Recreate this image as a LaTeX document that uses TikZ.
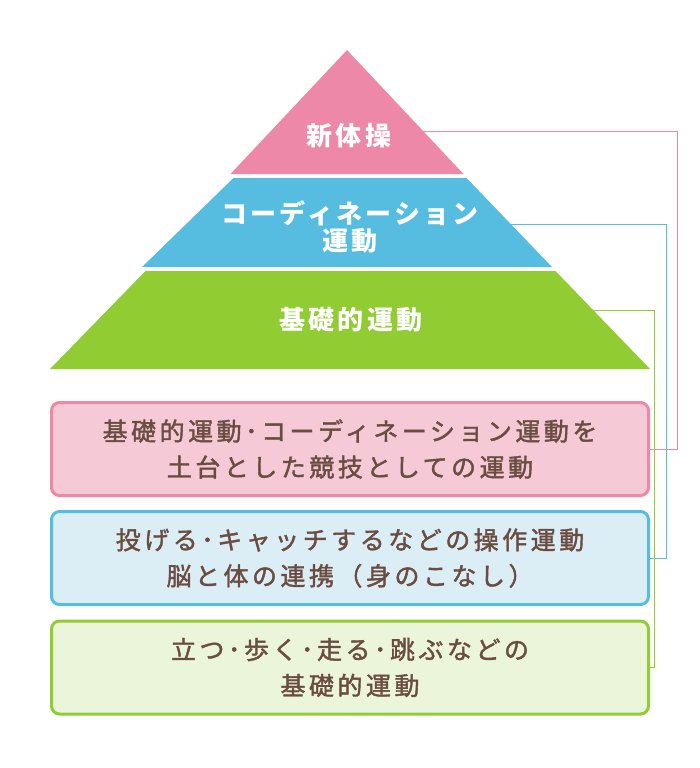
\documentclass[tikz,border=0pt]{standalone}
\usepackage{fontspec}
\newfontfamily\jpbox{Noto Sans CJK JP}[LetterSpace=14, FakeBold=1.6]
\newfontfamily\jppyr{Noto Sans CJK JP}[LetterSpace=12]
\definecolor{pk}{HTML}{EE88A8}
\definecolor{bl}{HTML}{56BDE0}
\definecolor{gn}{HTML}{91CC33}
\definecolor{pkf}{HTML}{F5C9D6}
\definecolor{blf}{HTML}{DCEEF5}
\definecolor{gnf}{HTML}{EBF5D9}
\definecolor{txt}{HTML}{6A4C40}
\tikzset{
  tiertext/.style={text=white, font=\jppyr\bfseries\fontsize{26}{27}\selectfont, align=center, inner sep=0pt},
  infobox/.style={rounded corners=8pt, line width=3pt, minimum width=597pt, minimum height=93pt,
    text=txt, font=\jpbox\fontsize{25}{36}\selectfont, align=center, inner sep=0pt},
  link/.style={line width=1pt}
}
\begin{document}
\begin{tikzpicture}[x=1pt,y=1pt]
\useasboundingbox (0,0) rectangle (700,-768);
% pyramid tiers
\fill[pk] (347,-50) -- (463.5,-174) -- (230.5,-174) -- cycle;
\fill[bl] (233.5,-178) -- (466.5,-178) -- (552,-267) -- (142,-267) -- cycle;
\fill[gn] (145.5,-271) -- (555.5,-271) -- (650,-369) -- (50,-369) -- cycle;
\node[tiertext] (t1) at (349,-136) {新体操};
\node[tiertext] (t2) at (350,-226.5) {コーディネーション\\運動};
\node[tiertext] (t3) at (351,-319.5) {基礎的運動};
% edge points
\coordinate (pe) at (423,-131);
\coordinate (be) at (511,-224);
\coordinate (ge) at (592,-310);
\coordinate (pr) at (677,-131);
\coordinate (br) at (666,-224);
\coordinate (gnr) at (654,-310);
% boxes
\node[infobox, draw=pk, fill=pkf] (b1) at (350,-449) {基礎的運動･コーディネーション運動を\\土台とした競技としての運動};
\node[infobox, draw=bl, fill=blf] (b2) at (350,-558) {投げる･キャッチするなどの操作運動\\脳と体の連携（身のこなし）};
\node[infobox, draw=gn, fill=gnf] (b3) at (350,-667.5) {立つ･歩く･走る･跳ぶなどの\\基礎的運動};
% connectors
\draw[link, draw=pk] (pe) -- (pr) |- (b1.east);
\draw[link, draw=bl] (be) -- (br) |- (b2.east);
\draw[link, draw=gn] (ge) -- (gnr) |- (b3.east);
\end{tikzpicture}
\end{document}
